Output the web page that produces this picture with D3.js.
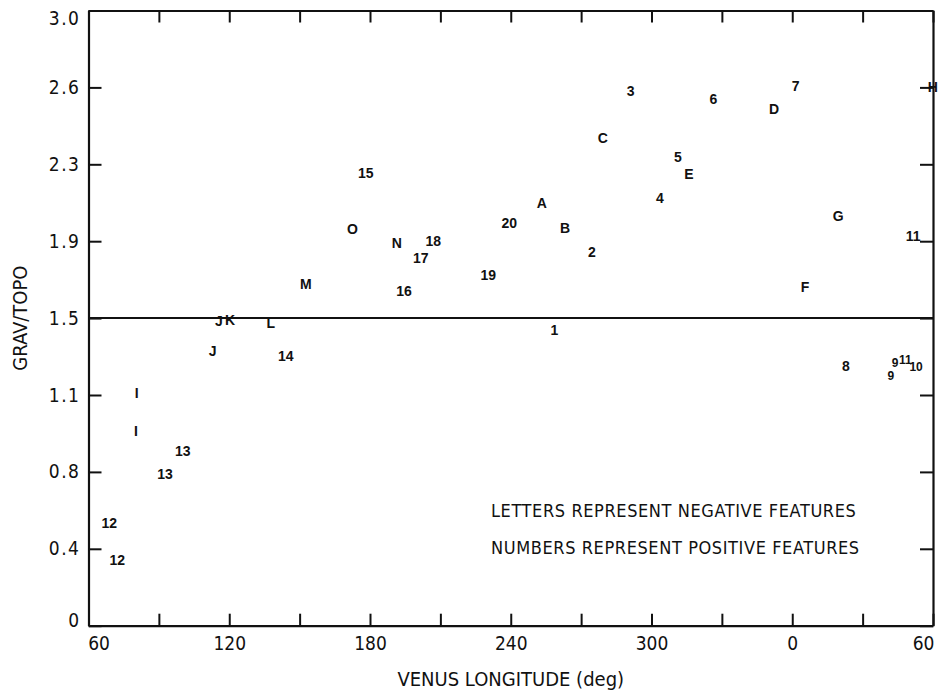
<!DOCTYPE html>
<html>
<head>
<meta charset="utf-8">
<script src="https://cdn.jsdelivr.net/npm/d3@7"></script>
<style>
  html, body { margin: 0; padding: 0; background: #fff; }
  svg { display: block; }
  .tick text { font-family: "Liberation Sans Narrow", "DejaVu Sans Condensed", "Liberation Sans", sans-serif; font-size: 19px; fill: #111; }
  .pt { font-family: "Liberation Sans", Arial, sans-serif; font-weight: bold; font-size: 14px; fill: #111; }
  .lbl { font-family: "Liberation Sans Narrow", "DejaVu Sans Condensed", "Liberation Sans", sans-serif; fill: #111; }
</style>
</head>
<body>
<svg id="chart" width="940" height="696"></svg>
<script>
// ---- data ----
const featureLabels = ["15","O","A","20","B","C","3","6","D","7","H","5","E","4","G","11",
  "N","18","17","19","16","M","2","1","F","8","9","9","11","10",
  "J","K","L","J","14","I","I","13","13","12","12"];
const longitudes = [178.2,172.5,253.2,239.4,263.1,279.2,291.1,326.4,352.2,1.5,59.9,311.3,316.0,303.6,19.6,51.5,
  191.4,207.0,201.6,230.4,194.5,152.7,274.6,258.6,5.4,22.9,42.0,43.8,48.2,52.8,
  115.6,120.3,137.7,112.9,144.1,80.5,80.2,100.2,92.6,68.9,72.3];
const gravTopo = [2.206,1.933,2.060,1.965,1.941,2.380,2.609,2.570,2.518,2.632,2.625,2.287,2.203,2.084,1.999,1.900,
  1.868,1.877,1.793,1.710,1.632,1.665,1.824,1.442,1.653,1.266,1.218,1.281,1.296,1.262,
  1.486,1.490,1.475,1.341,1.315,1.133,0.951,0.852,0.740,0.499,0.320];

const xTickValues = [60,90,120,150,180,210,240,270,300,330,360,390,420];
const xTickLabels = {60:"60",120:"120",180:"180",240:"240",300:"300",360:"0",420:"60"};
const yTickValues = [0,0.375,0.75,1.125,1.5,1.875,2.25,2.625,3.0];
const yTickLabels = ["0","0.4","0.8","1.1","1.5","1.9","2.3","2.6","3.0"];
const referenceLine = 1.5;
const legendLines = ["LETTERS REPRESENT NEGATIVE FEATURES","NUMBERS REPRESENT POSITIVE FEATURES"];

// ---- layout ----
const W = 940, H = 696;
const m = {left: 88.5, right: 7, top: 10.5, bottom: 70.3};
const svg = d3.select("#chart");

const x = d3.scaleLinear().domain([60, 420]).range([m.left, W - m.right]);
const y = d3.scaleLinear().domain([0, 3]).range([H - m.bottom, m.top]);
const unwrap = lon => lon < 60 ? lon + 360 : lon;

function styleAxis(g) {
  g.selectAll(".domain").attr("stroke", "#111").attr("stroke-width", 2.2);
  g.selectAll(".tick line").attr("stroke", "#111").attr("stroke-width", 2);
}

// bottom axis
const gx = svg.append("g").attr("transform", `translate(0,${y(0)})`)
  .call(d3.axisBottom(x).tickValues(xTickValues).tickSizeInner(-12).tickSizeOuter(0).tickPadding(8)
    .tickFormat(d => xTickLabels[d] || ""))
  .call(styleAxis);
gx.selectAll(".tick text").attr("dy", "0.85em");
gx.selectAll(".tick").filter(d => d === 60).select("text").attr("dx", 10);
gx.selectAll(".tick").filter(d => d === 420).select("text").attr("dx", -10);

// top axis
svg.append("g").attr("transform", `translate(0,${y(3)})`)
  .call(d3.axisTop(x).tickValues(xTickValues).tickSizeInner(-12).tickSizeOuter(0).tickFormat(""))
  .call(styleAxis);

// left axis
const gy = svg.append("g").attr("transform", `translate(${x(60)},0)`)
  .call(d3.axisLeft(y).tickValues(yTickValues).tickSizeInner(-13).tickSizeOuter(0).tickPadding(8)
    .tickFormat((d, i) => yTickLabels[i]))
  .call(styleAxis);
gy.selectAll(".tick text").attr("letter-spacing", "1.5px");
gy.selectAll(".tick").filter(d => d === 3).select("text").attr("dy", "0.32em").attr("y", 8);
gy.selectAll(".tick").filter(d => d === 0).select("text").attr("y", -5);

// right axis
svg.append("g").attr("transform", `translate(${x(420)},0)`)
  .call(d3.axisRight(y).tickValues(yTickValues).tickSizeInner(-13).tickSizeOuter(0).tickFormat(""))
  .call(styleAxis);

// reference line at 1.5
svg.append("line")
  .attr("x1", x(60)).attr("x2", x(420))
  .attr("y1", y(referenceLine)).attr("y2", y(referenceLine))
  .attr("stroke", "#111").attr("stroke-width", 2);

// feature labels
svg.append("g").selectAll("text").data(featureLabels).join("text")
  .attr("class", "pt")
  .attr("x", (d, i) => x(unwrap(longitudes[i])))
  .attr("y", (d, i) => y(gravTopo[i]))
  .attr("text-anchor", "middle")
  .attr("dominant-baseline", "central")
  .attr("font-size", (d, i) => (i >= 26 && i <= 29) ? 12 : 14)
  .style("font-size", (d, i) => (i >= 26 && i <= 29) ? "12px" : "14px")
  .text(d => d);

// legend notes
svg.append("g").selectAll("text").data(legendLines).join("text")
  .attr("class", "lbl")
  .attr("x", 491)
  .attr("y", (d, i) => 517 + i * 36.5)
  .attr("font-size", 18)
  .attr("letter-spacing", "0.6px")
  .text(d => d);

// axis titles
svg.append("text").attr("class", "lbl")
  .attr("x", (x(60) + x(420)) / 2).attr("y", 686)
  .attr("text-anchor", "middle").attr("font-size", 20)
  .text("VENUS LONGITUDE (deg)");

svg.append("text").attr("class", "lbl")
  .attr("transform", `translate(27,${(y(0) + y(3)) / 2}) rotate(-90)`)
  .attr("text-anchor", "middle").attr("font-size", 20)
  .text("GRAV/TOPO");
</script>
</body>
</html>
